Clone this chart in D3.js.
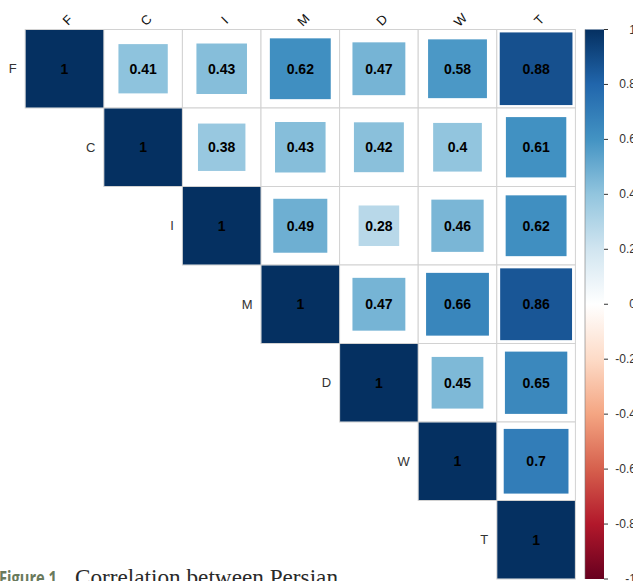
<!DOCTYPE html>
<html><head><meta charset="utf-8">
<script src="https://cdn.jsdelivr.net/npm/d3@7"></script>
<style>html,body{margin:0;padding:0;background:#fff;overflow:hidden}</style>
</head><body>
<svg id="c" width="633" height="581"></svg>
<script>
const labels = ["F","C","I","M","D","W","T"];
// upper-triangle correlation rows (starting at the diagonal)
const rowF = [1, 0.41, 0.43, 0.62, 0.47, 0.58, 0.88];
const rowC = [1, 0.38, 0.43, 0.42, 0.40, 0.61];
const rowI = [1, 0.49, 0.28, 0.46, 0.62];
const rowM = [1, 0.47, 0.66, 0.86];
const rowD = [1, 0.45, 0.65];
const rowW = [1, 0.70];
const rowT = [1];
const rows = [rowF, rowC, rowI, rowM, rowD, rowW, rowT];
const legendTicks = [1, 0.8, 0.6, 0.4, 0.2, 0, -0.2, -0.4, -0.6, -0.8, -1];
const paletteStops = ["#67001F","#B2182B","#D6604D","#F4A582","#FDDBC7","#FFFFFF","#D1E5F0","#92C5DE","#4393C3","#2166AC","#053061"];

const cells = [];
rows.forEach((r, i) => r.forEach((v, k) => cells.push({i, j: i + k, v})));

const svg = d3.select("#c");
const x = d3.scaleBand().domain(labels).range([25.2, 575.4]).padding(0);
const y = d3.scaleBand().domain(labels).range([29.5, 579]).padding(0);
const bw = x.bandwidth(), bh = y.bandwidth();
const color = d3.scaleLinear().domain(d3.range(paletteStops.length).map(k => -1 + 2 * k / (paletteStops.length - 1))).range(paletteStops).interpolate(d3.interpolateRgb);
const size = d3.scaleSqrt().domain([0, 1]).range([0, 1]);

// grid
const g = svg.append("g");
g.selectAll("rect.grid").data(cells).join("rect")
  .attr("x", d => x(labels[d.j])).attr("y", d => y(labels[d.i]))
  .attr("width", bw).attr("height", bh)
  .attr("fill", "#fff").attr("stroke", "#d2d2d2").attr("stroke-width", 1);

g.selectAll("rect.sq").data(cells).join("rect")
  .attr("x", d => x(labels[d.j]) + bw * (1 - size(Math.abs(d.v))) / 2 + 0.5)
  .attr("y", d => y(labels[d.i]) + bh * (1 - size(Math.abs(d.v))) / 2 + 0.5)
  .attr("width", d => bw * size(Math.abs(d.v)) - 1)
  .attr("height", d => bh * size(Math.abs(d.v)) - 1)
  .attr("fill", d => color(d.v));

g.selectAll("text.num").data(cells).join("text")
  .attr("x", d => x(labels[d.j]) + bw / 2)
  .attr("y", d => y(labels[d.i]) + bh / 2)
  .attr("text-anchor", "middle").attr("dominant-baseline", "central")
  .attr("font-family", "Liberation Sans, Arial, sans-serif").attr("font-size", 14).attr("font-weight", "bold")
  .attr("fill", "#000")
  .text(d => d.v === 1 ? "1" : String(d.v));

// column labels (rotated)
svg.append("g").selectAll("text").data(labels).join("text")
  .attr("transform", d => `translate(${x(d) + bw / 2 + 3},${20}) rotate(-45)`)
  .attr("text-anchor", "middle").attr("dominant-baseline", "central")
  .attr("font-family", "Liberation Sans, Arial, sans-serif").attr("font-size", 13)
  .attr("fill", "#111").text(d => d);

// row labels
svg.append("g").selectAll("text").data(labels).join("text")
  .attr("x", (d, i) => x(labels[i]) - 8.5)
  .attr("y", d => y(d) + bh / 2)
  .attr("text-anchor", "end").attr("dominant-baseline", "central")
  .attr("font-family", "Liberation Sans, Arial, sans-serif").attr("font-size", 13)
  .attr("fill", "#333").text(d => d);

// colour legend
const ly = d3.scaleLinear().domain([-1, 1]).range([579, 29.5]);
const defs = svg.append("defs");
const grad = defs.append("linearGradient").attr("id", "lg").attr("x1", 0).attr("x2", 0).attr("y1", 1).attr("y2", 0);
paletteStops.forEach((c, k) => grad.append("stop").attr("offset", k / (paletteStops.length - 1)).attr("stop-color", c));
svg.append("rect").attr("x", 585).attr("y", ly(1)).attr("width", 19).attr("height", ly(-1) - ly(1)).attr("fill", "url(#lg)");
svg.append("line").attr("x1", 585).attr("x2", 585).attr("y1", ly(1)).attr("y2", ly(-1)).attr("stroke", "#777").attr("stroke-width", 0.6);
const lt = svg.append("g");
lt.selectAll("line").data(legendTicks).join("line")
  .attr("x1", 604).attr("x2", 608).attr("y1", d => ly(d)).attr("y2", d => ly(d)).attr("stroke", "#333");
lt.selectAll("text").data(legendTicks).join("text")
  .attr("x", 636).attr("y", d => ly(d))
  .attr("text-anchor", "end").attr("dominant-baseline", "central")
  .attr("font-family", "Liberation Sans, Arial, sans-serif").attr("font-size", 12)
  .attr("fill", "#333").text(d => d);

// caption (partially cut off)
const cap = svg.append("text").attr("x", -1).attr("y", 585);
cap.append("tspan").attr("font-family", "Open Sans, sans-serif").attr("font-weight", "bold").attr("font-size", 20)
  .attr("fill", "#6a7a5c").attr("textLength", 58).attr("lengthAdjust", "spacingAndGlyphs").text("Figure 1");
cap.append("tspan").attr("x", 75).attr("font-family", "Liberation Serif, serif").attr("font-size", 23)
  .attr("fill", "#2a2a2a").attr("textLength", 263).attr("lengthAdjust", "spacingAndGlyphs").text("Correlation between Persian");
</script>
</body></html>
